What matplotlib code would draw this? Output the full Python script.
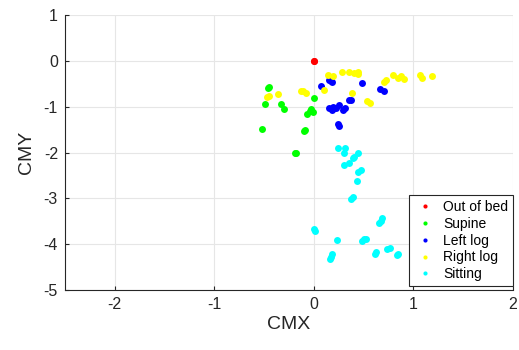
import matplotlib
matplotlib.use("Agg")
import matplotlib.pyplot as plt

plt.rcParams["font.family"] = ["Liberation Sans", "DejaVu Sans"]
plt.rcParams["axes.unicode_minus"] = False

# Centre of mass coordinates per posture
out_of_bed_x = [0.0, 0.0]
out_of_bed_y = [0.0, -0.01]

supine_x = [-0.45, -0.46, -0.49, -0.33, -0.30, -0.52, 0.0, -0.04, -0.07,
            -0.01, -0.03, -0.10, -0.09, -0.18, -0.19]
supine_y = [-0.56, -0.60, -0.94, -0.93, -1.05, -1.48, -0.81, -1.09, -1.15,
            -1.12, -1.05, -1.52, -1.50, -2.0, -2.01]

left_log_x = [0.07, 0.15, 0.18, 0.17, 0.49, 0.67, 0.71, 0.35, 0.37, 0.15,
              0.19, 0.22, 0.25, 0.29, 0.18, 0.24, 0.25, 0.20, 0.31]
left_log_y = [-0.54, -0.41, -0.45, -0.43, -0.48, -0.61, -0.65, -0.85, -0.86,
              -1.03, -1.00, -1.02, -0.96, -1.07, -1.07, -1.38, -1.41, -1.02, -1.02]

right_log_x = [-0.45, -0.47, -0.36, -0.13, -0.08, 0.10, 0.14, 0.19, 0.28,
               0.35, 0.40, 0.45, 0.44, 0.73, 0.71, 0.80, 0.85, 0.88, 0.91,
               1.07, 1.09, 1.19, 0.38, 0.54, 0.57, -0.11]
right_log_y = [-0.76, -0.78, -0.72, -0.65, -0.70, -0.64, -0.30, -0.33, -0.24,
               -0.24, -0.26, -0.24, -0.28, -0.42, -0.46, -0.31, -0.37, -0.33,
               -0.39, -0.31, -0.37, -0.34, -0.70, -0.87, -0.91, -0.65]

sitting_x = [0.24, 0.31, 0.30, 0.45, 0.40, 0.39, 0.35, 0.30, 0.48, 0.45,
             0.43, 0.39, 0.37, 0.69, 0.66, 0.68, 0.0, 0.01, 0.23, 0.51,
             0.49, 0.53, 0.17, 0.16, 0.18, 0.63, 0.62, 0.74, 0.77, 0.85, 0.84]
sitting_y = [-1.91, -1.91, -2.0, -2.0, -2.09, -2.11, -2.22, -2.26, -2.39,
             -2.43, -2.63, -2.96, -3.02, -3.43, -3.54, -3.50, -3.67, -3.72,
             -3.91, -3.89, -3.93, -3.88, -4.28, -4.33, -4.22, -4.17, -4.22,
             -4.11, -4.09, -4.22, -4.24]

x_ticks = [-2, -1, 0, 1, 2]
y_ticks = [1, 0, -1, -2, -3, -4, -5]


def main():
    fig = plt.figure(figsize=(5.19, 3.5), dpi=100)
    ax = fig.add_axes([0.125, 0.171, 0.863, 0.786])

    groups = [
        ("Out of bed", out_of_bed_x, out_of_bed_y, "#ff0000"),
        ("Supine", supine_x, supine_y, "#00ff00"),
        ("Left log", left_log_x, left_log_y, "#0000ff"),
        ("Right log", right_log_x, right_log_y, "#ffff00"),
        ("Sitting", sitting_x, sitting_y, "#00ffff"),
    ]
    for label, xs, ys, color in groups:
        ax.plot(xs, ys, "o", color=color, markersize=5, markeredgewidth=0,
                label=label, zorder=3)

    ax.set_xlim(-2.5, 2)
    ax.set_ylim(-5, 1)
    ax.set_xticks(x_ticks)
    ax.set_yticks(y_ticks)
    ax.grid(True, color="#e6e6e6", linewidth=0.8, zorder=0)
    ax.set_axisbelow(True)

    ax.spines["top"].set_visible(False)
    ax.spines["right"].set_visible(False)
    for side in ["left", "bottom"]:
        ax.spines[side].set_color("#262626")
        ax.spines[side].set_linewidth(0.8)
    ax.tick_params(direction="in", length=3, labelsize=11.5,
                   colors="#262626", labelcolor="#262626", pad=5)

    ax.set_xlabel("CMX", fontsize=14, color="#262626", labelpad=3)
    ax.set_ylabel("CMY", fontsize=14, color="#262626", labelpad=6)

    leg = ax.legend(loc="lower right", fontsize=10, markerscale=0.6,
                    handlelength=1.6, handletextpad=0.5, labelspacing=0.2,
                    borderpad=0.35, fancybox=False, framealpha=1,
                    borderaxespad=0, bbox_to_anchor=(1.0, 0.015))
    leg.get_frame().set_edgecolor("#262626")
    leg.get_frame().set_linewidth(0.8)

    fig.savefig("out.png", dpi=100)
    plt.close(fig)


if __name__ == "__main__":
    main()
